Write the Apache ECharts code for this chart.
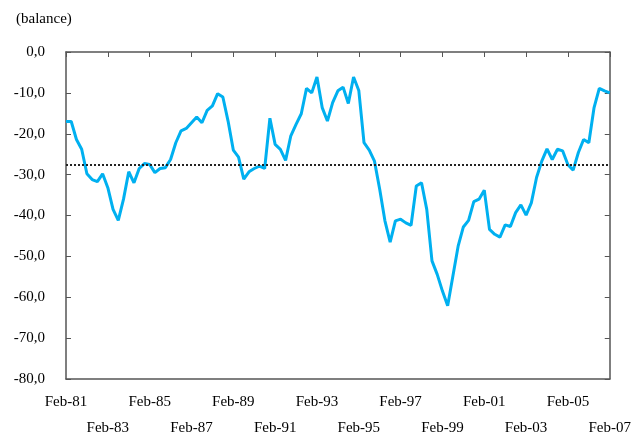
<!DOCTYPE html>
<html>
<head>
<meta charset="utf-8">
<script src="https://cdn.jsdelivr.net/npm/echarts@6/dist/echarts.min.js"></script>
<style>
html,body{margin:0;padding:0;background:#fff;}
#chart{width:634px;height:436px;}
</style>
</head>
<body>
<div id="chart"></div>
<script>
// Quarterly observations from Feb-81 to Feb-07
const startYear = 1981;
const endYear = 2007;
const months = ['Feb', 'May', 'Aug', 'Nov'];

const balance = [
  -17.0, -17.0, -21.4, -23.8, -29.8, -31.2, -31.7, -29.8, -33.2, -38.5,
  -41.2, -36.0, -29.3, -32.0, -28.5, -27.3, -27.5, -29.5, -28.5, -28.3,
  -26.3, -22.2, -19.3, -18.7, -17.3, -15.9, -17.3, -14.3, -13.2, -10.2,
  -11.0, -16.9, -24.0, -25.7, -31.1, -29.3, -28.5, -27.9, -28.5, -16.2,
  -22.6, -23.8, -26.5, -20.5, -17.7, -15.1, -8.9, -10.0, -6.1, -13.6,
  -16.9, -12.4, -9.5, -8.6, -12.6, -6.1, -9.4, -22.2, -24.0, -26.7,
  -33.6, -41.3, -46.5, -41.3, -40.9, -41.8, -42.4, -32.8, -32.0, -38.5,
  -51.1, -54.4, -58.5, -62.1, -54.8, -47.5, -42.8, -41.2, -36.6, -36.0,
  -33.8, -43.4, -44.6, -45.3, -42.3, -42.7, -39.3, -37.4, -39.9, -36.9,
  -30.7, -26.7, -23.7, -26.3, -23.8, -24.2, -27.6, -28.9, -24.6, -21.4,
  -22.2, -13.6, -8.9, -9.5, -10.0
];

const averageLevel = -27.5;

const categories = [];
for (let y = startYear; y <= endYear; y++) {
  for (let m = 0; m < months.length; m++) {
    if (y === endYear && m > 0) break;
    categories.push(months[m] + '-' + String(y).slice(2));
  }
}

const font = 'Liberation Serif';
const axisColor = '#555';

function rowLabel(row) {
  return function (val, idx) {
    return (Math.round(idx / 8) % 2 === row) ? val : '';
  };
}

const chart = echarts.init(document.getElementById('chart'), null, {renderer: 'canvas'});
chart.setOption({
  animation: false,
  backgroundColor: '#fff',
  title: {
    text: '(balance)',
    left: 11, top: 7,
    textStyle: {fontFamily: font, fontSize: 15, fontWeight: 'normal', color: '#000'}
  },
  grid: {left: 66, right: 20, top: 52, bottom: 57, containLabel: false},
  xAxis: [{
    type: 'category',
    data: categories,
    boundaryGap: false,
    position: 'bottom',
    axisLine: {show: true, onZero: false, lineStyle: {color: axisColor, width: 1.5}},
    axisTick: {show: false},
    axisLabel: {
      interval: 7, showMinLabel: true, showMaxLabel: true, hideOverlap: false,
      margin: 16,
      fontFamily: font, fontSize: 15, color: '#000',
      formatter: rowLabel(0)
    },
    splitLine: {show: false}
  }, {
    type: 'category',
    data: categories,
    boundaryGap: false,
    position: 'top',
    axisLine: {show: true, onZero: false, lineStyle: {color: axisColor, width: 1.5}},
    axisTick: {show: true, inside: true, interval: 7, length: 5, lineStyle: {color: axisColor}},
    axisLabel: {show: false},
    splitLine: {show: false}
  }, {
    type: 'category',
    data: categories,
    boundaryGap: false,
    position: 'bottom',
    axisLine: {show: false, onZero: false},
    axisTick: {show: false},
    axisLabel: {
      interval: 7, showMinLabel: true, showMaxLabel: true, hideOverlap: false,
      margin: 42,
      fontFamily: font, fontSize: 15, color: '#000',
      formatter: rowLabel(1)
    },
    splitLine: {show: false}
  }],
  yAxis: [{
    type: 'value',
    min: -80, max: 0, interval: 10,
    position: 'left',
    axisLine: {show: true, onZero: false, lineStyle: {color: axisColor, width: 1.5}},
    axisTick: {show: true, inside: true, length: 5, lineStyle: {color: axisColor}},
    axisLabel: {
      margin: 21, fontFamily: font, fontSize: 15, color: '#000',
      formatter: function (v) { return v.toFixed(1).replace('.', ','); }
    },
    splitLine: {show: false}
  }, {
    type: 'value',
    min: -80, max: 0, interval: 10,
    position: 'right',
    axisLine: {show: true, onZero: false, lineStyle: {color: axisColor, width: 1.5}},
    axisTick: {show: true, inside: true, length: 5, lineStyle: {color: axisColor}},
    axisLabel: {show: false},
    splitLine: {show: false}
  }],
  series: [{
    type: 'line',
    data: balance,
    xAxisIndex: 0,
    yAxisIndex: 0,
    showSymbol: false,
    symbol: 'none',
    lineStyle: {color: '#00B0F0', width: 3},
    z: 3,
    markLine: {
      silent: true,
      symbol: ['none', 'none'],
      label: {show: false},
      lineStyle: {color: '#222', type: [2, 2], width: 2},
      data: [{yAxis: averageLevel}]
    }
  }]
});
</script>
</body>
</html>
